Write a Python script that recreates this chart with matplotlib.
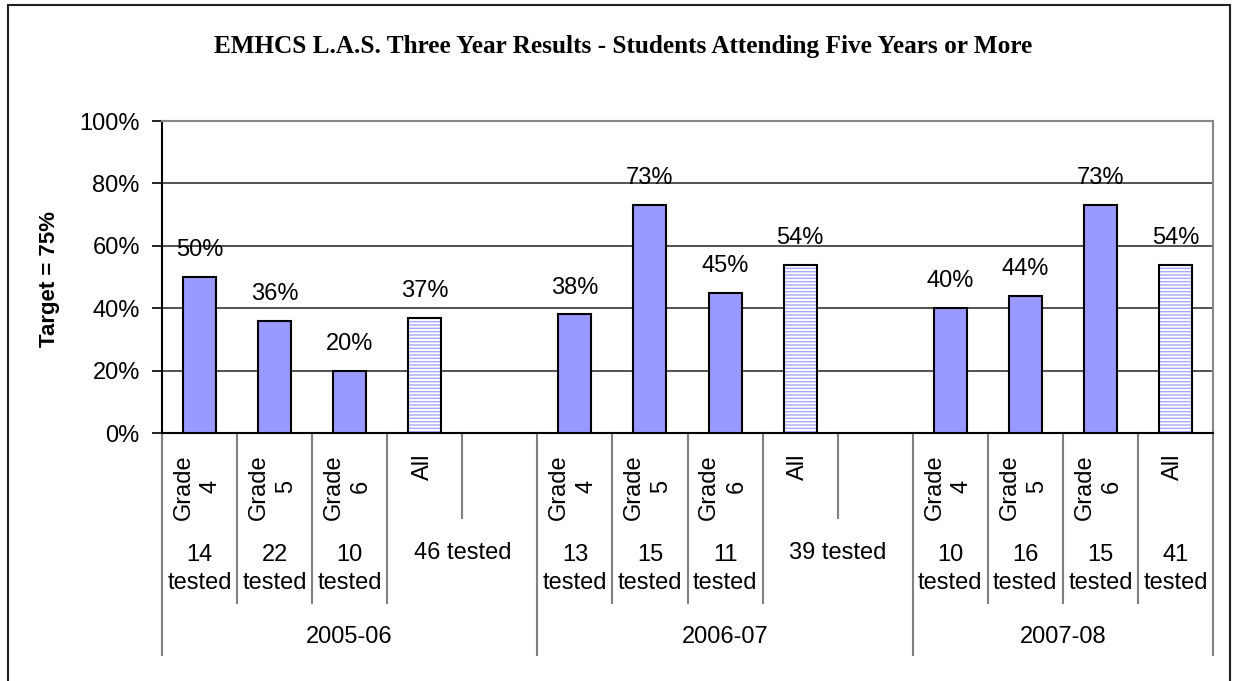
import numpy as np
import matplotlib.pyplot as plt
from matplotlib.patches import Rectangle

plt.rcParams['font.family'] = ['Liberation Sans', 'DejaVu Sans']

# one slot per category on the axis (blank slots keep the year groups apart)
years = ['2005-06', '2006-07', '2007-08']
grades = ['Grade\n4', 'Grade\n5', 'Grade\n6', 'All', '',
          'Grade\n4', 'Grade\n5', 'Grade\n6', 'All', '',
          'Grade\n4', 'Grade\n5', 'Grade\n6', 'All']
values = [50, 36, 20, 37, np.nan,
          38, 73, 45, 54, np.nan,
          40, 44, 73, 54]
is_all = [g == 'All' for g in grades]
# tested labels: (first slot, last slot, text)
tested = [(0, 0, '14\ntested'), (1, 1, '22\ntested'), (2, 2, '10\ntested'), (3, 4, '46 tested'),
          (5, 5, '13\ntested'), (6, 6, '15\ntested'), (7, 7, '11\ntested'), (8, 9, '39 tested'),
          (10, 10, '10\ntested'), (11, 11, '16\ntested'), (12, 12, '15\ntested'), (13, 13, '41\ntested')]
year_span = [(0, 4), (5, 9), (10, 13)]

W, H = 1235, 681
FS = 17
fig = plt.figure(figsize=(W / 100, H / 100), dpi=100)
ax = fig.add_axes([162 / W, 1 - 433 / H, (1213 - 162) / W, (433 - 121) / H])

n = len(grades)
x = np.arange(n)
bar_col = '#9999FF'
for i in range(n):
    v = values[i]
    if np.isnan(v):
        continue
    if is_all[i]:
        ax.bar(x[i], v, width=0.44, color='white', edgecolor='#A8A8FF', hatch='-----', linewidth=0, zorder=3)
        ax.bar(x[i], v, width=0.44, fill=False, edgecolor='black', linewidth=1.5, zorder=4)
    else:
        ax.bar(x[i], v, width=0.44, color=bar_col, edgecolor='black', linewidth=1.5, zorder=3)
    ax.annotate('%d%%' % v, (x[i], v), xytext=(0, 15), textcoords='offset points',
                ha='center', va='baseline', fontsize=FS)

ax.set_xlim(-0.5, n - 0.5)
ax.set_ylim(0, 100)
ax.set_yticks(np.arange(0, 101, 20))
ax.set_yticklabels(['%d%%' % t for t in range(0, 101, 20)], fontsize=FS)
ax.tick_params(axis='y', length=7, width=1.2, pad=9, direction='out')
ax.set_xticks([])
for t in range(20, 100, 20):
    ax.axhline(t, color='#222222', linewidth=1.1, zorder=1)
ax.spines['top'].set_color('#888888')
ax.spines['right'].set_color('#888888')
ax.spines['top'].set_linewidth(1.5)
ax.spines['right'].set_linewidth(1.5)
ax.spines['left'].set_linewidth(1.5)
ax.spines['bottom'].set_linewidth(1.5)

fig.text(49 / W, 1 - 279 / H, 'Target = 75%', rotation=90, ha='center', va='center',
         fontsize=16, fontweight='bold')


def yax(p):
    # pixel row -> axes fraction
    return (433 - p) / 312


tr = ax.get_xaxis_transform()
# separators below the axis
year_edges = {s for s, e in year_span} | {n}
tested_edges = {s for s, e, t in tested} | {n}
for b in range(n + 1):
    if b in year_edges:
        end = 655
    elif b in tested_edges:
        end = 603
    else:
        end = 518
    ax.plot([b - 0.5, b - 0.5], [0, yax(end)], transform=tr, color='#808080',
            linewidth=1.5, clip_on=False)

for i, g in enumerate(grades):
    if g:
        ax.text(x[i] - 0.03, yax(454), g, transform=tr, rotation=90, ha='center', va='top',
                multialignment='center', fontsize=FS, linespacing=1.3)
for s, e, t in tested:
    if '\n' in t:
        ax.text((s + e) / 2, yax(569), t, transform=tr, ha='center', va='center',
                multialignment='center', fontsize=FS, linespacing=1.3)
    else:
        ax.text((s + e) / 2, yax(553), t, transform=tr, ha='center', va='center', fontsize=FS)
for (s, e), yr in zip(year_span, years):
    ax.text((s - 0.5 + e + 0.5) / 2, yax(637), yr, transform=tr, ha='center', va='center', fontsize=FS)

fig.text(623 / W, 1 - 47 / H, 'EMHCS L.A.S. Three Year Results - Students Attending Five Years or More',
         ha='center', va='center', fontsize=18.2, fontweight='bold', family='Liberation Serif')

fig.patches.append(Rectangle((8 / W, -0.05), (1230 - 8) / W, 1.05 - 5 / H, transform=fig.transFigure,
                             fill=False, edgecolor='#222222', linewidth=1.5))

fig.savefig('out.png', dpi=100)
